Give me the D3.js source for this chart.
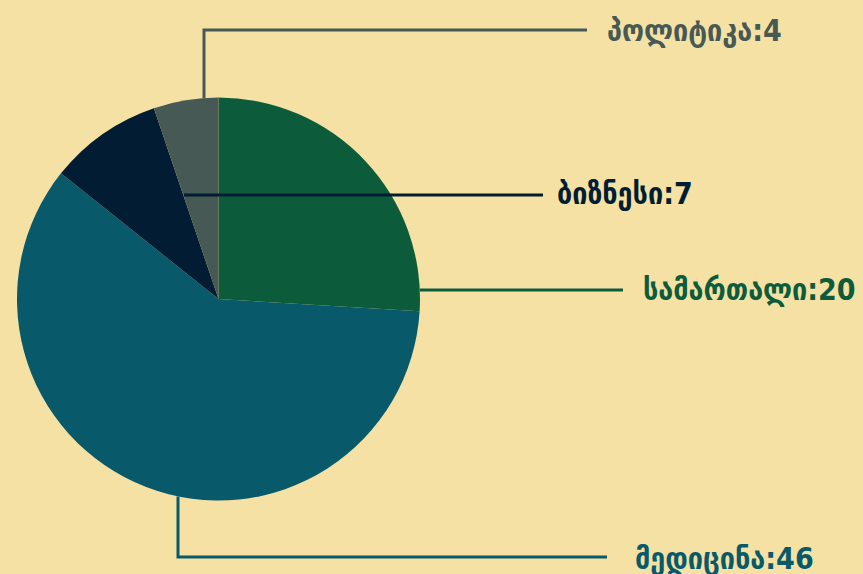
<!DOCTYPE html>
<html lang="ka">
<head>
<meta charset="UTF-8">
<title>Pie</title>
<script src="https://d3js.org/d3.v7.min.js"></script>
<style>
  body { margin: 0; background: #f5e1a3; }
  svg { display: block; }
</style>
</head>
<body>
<div id="chart"></div>
<script>
  // data
  const categories = ['სამართალი', 'მედიცინა', 'ბიზნესი', 'პოლიტიკა'];
  const values = [20, 46, 7, 4];
  const colors = ['#0c5c3c', '#085a6b', '#021d33', '#465955'];

  const width = 863, height = 574;
  const cx = 218.5, cy = 299, radius = 201.5;

  // leader line layout per category: elbow points and text anchor
  const layout = [
    { from: 'edge', mid: null, endX: 623, textX: 643, textY: 289, y: 290 },
    { from: 'bottom', x: 178, y: 557, endX: 607, textX: 635, textY: 558 },
    { from: 'inner', x: 184, y: 195, endX: 543, textX: 557, textY: 193 },
    { from: 'top', x: 204, y: 30, endX: 587, textX: 607, textY: 30 }
  ];

  const svg = d3.select('#chart').append('svg')
    .attr('width', width).attr('height', height);

  const g = svg.append('g').attr('transform', `translate(${cx}, ${cy})`);

  const pie = d3.pie().sort(null).value(d => d.value);
  const arc = d3.arc().innerRadius(0).outerRadius(radius);

  const data = categories.map((c, i) => ({ name: c, value: values[i], color: colors[i] }));

  g.selectAll('path').data(pie(data)).enter().append('path')
    .attr('d', arc)
    .attr('fill', d => d.data.color);

  // leader lines (absolute coords)
  const edgeY = x => cy - Math.sqrt(radius * radius - (x - cx) * (x - cx));
  const edgeYb = x => cy + Math.sqrt(radius * radius - (x - cx) * (x - cx));
  const edgeX = y => cx + Math.sqrt(radius * radius - (y - cy) * (y - cy));

  const lines = svg.append('g').attr('fill', 'none').attr('stroke-width', 3);

  data.forEach((d, i) => {
    const l = layout[i];
    let pts;
    if (l.from === 'edge') pts = [[edgeX(l.y), l.y], [l.endX, l.y]];
    else if (l.from === 'bottom') pts = [[l.x, edgeYb(l.x)], [l.x, l.y], [l.endX, l.y]];
    else if (l.from === 'top') pts = [[l.x, edgeY(l.x)], [l.x, l.y], [l.endX, l.y]];
    else pts = [[l.x, l.y], [l.endX, l.y]];
    lines.append('path')
      .attr('d', d3.line()(pts))
      .attr('stroke', d.color);

    svg.append('text')
      .attr('x', l.textX)
      .attr('y', l.textY)
      .attr('dominant-baseline', 'central')
      .style('font-family', "'DejaVu Sans Condensed', 'DejaVu Sans', sans-serif")
      .style('font-weight', 'bold')
      .style('font-size', '30px')
      .attr('fill', d.color)
      .text(`${d.name}:${d.value}`);
  });
</script>
</body>
</html>
